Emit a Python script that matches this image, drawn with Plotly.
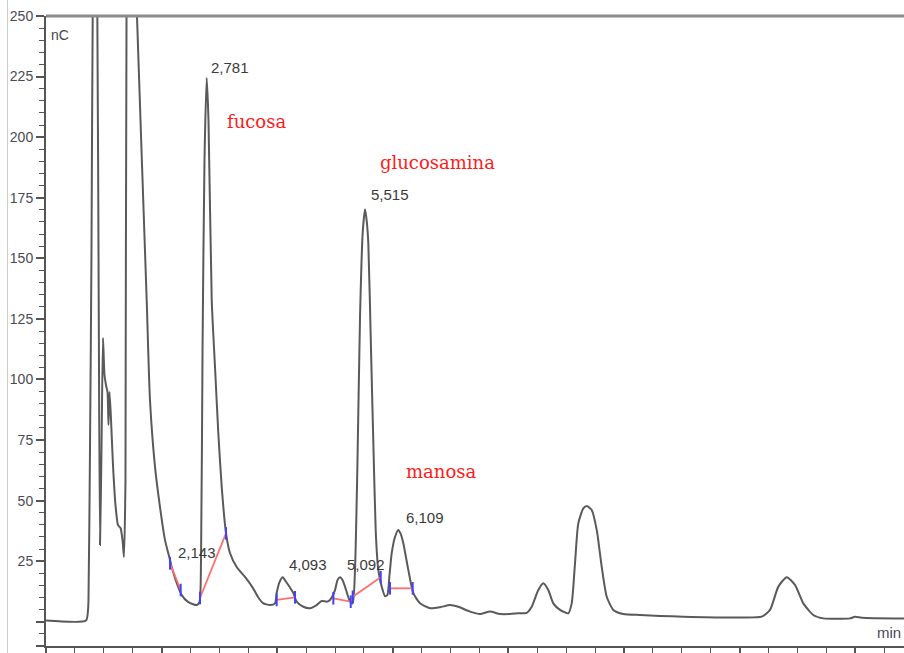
import plotly.graph_objects as go

# ---- chromatogram trace (time in min, signal in nC) ----
time_min = [0.0, 0.692, 0.727, 0.735, 0.761, 0.787, 0.808, 0.848, 0.888, 0.912, 0.934,
            0.960, 0.986, 1.012, 1.038, 1.064, 1.081, 1.099, 1.125, 1.159, 1.202, 1.246,
            1.289, 1.324, 1.349, 1.375, 1.393, 1.470, 1.574, 1.742, 1.799, 1.886, 1.972,
            2.059, 2.133, 2.175, 2.261, 2.348, 2.457, 2.607, 2.656, 2.682, 2.708, 2.742,
            2.780, 2.811, 2.867, 2.924, 2.981, 3.040, 3.114, 3.183, 3.299, 3.443, 3.581,
            3.668, 3.754, 3.875, 3.962, 3.991, 4.040, 4.095, 4.144, 4.192, 4.279, 4.337,
            4.452, 4.567, 4.683, 4.770, 4.856, 4.913, 5.000, 5.043, 5.087, 5.130, 5.173,
            5.260, 5.306, 5.346, 5.386, 5.433, 5.479, 5.519, 5.550, 5.576, 5.623, 5.675,
            5.709, 5.749, 5.808, 5.865, 5.905, 5.943, 5.981, 6.038, 6.095, 6.138, 6.182,
            6.268, 6.355, 6.471, 6.644, 6.817, 6.990, 7.133, 7.336, 7.509, 7.682, 7.855,
            8.028, 8.171, 8.317, 8.403, 8.517, 8.604, 8.690, 8.777, 8.893, 9.036, 9.095,
            9.152, 9.209, 9.296, 9.355, 9.441, 9.528, 9.614, 9.701, 9.815, 9.988, 10.277,
            10.623, 11.026, 11.891, 12.382, 12.526, 12.670, 12.815, 12.958, 13.102, 13.275,
            13.448, 13.910, 13.997, 14.113, 14.844]
signal_nc = [0.5, 0.5, 4.9, 9.0, 70.9, 153.4, 250.0, 320.0, 250.0, 132.8, 31.7,
             70.9, 117.1, 101.8, 97.7, 94.8, 81.2, 94.8, 83.3, 64.7, 48.2, 39.9,
             38.7, 33.7, 26.7, 58.5, 250.0, 340.0, 250.0, 132.8, 91.5, 63.9, 47.4,
             33.7, 26.7, 22.6, 16.0, 11.0, 8.2, 6.9, 8.2, 25.5, 112.2, 190.6,
             224.4, 207.1, 132.8, 105.1, 77.9, 55.6, 36.6, 28.4, 22.6, 18.5, 13.9,
             10.2, 7.7, 6.9, 7.6, 11.9, 16.4, 18.4, 16.8, 15.2, 11.9, 8.3,
             6.2, 5.6, 6.9, 8.6, 8.3, 9.0, 13.1, 17.2, 18.4, 17.2, 14.5,
             8.3, 7.6, 21.4, 62.6, 125.9, 160.5, 170.2, 165.0, 156.3, 112.2, 62.6,
             35.1, 21.4, 14.5, 10.6, 11.0, 19.3, 28.3, 35.0, 37.9, 36.2, 32.4,
             21.4, 11.8, 7.6, 5.6, 6.0, 6.9, 6.2, 4.2, 3.2, 4.2, 3.2,
             3.2, 3.5, 3.7, 6.2, 13.1, 15.9, 13.1, 7.6, 4.9, 3.5, 7.6,
             24.1, 40.6, 46.8, 47.8, 46.1, 37.9, 22.7, 10.3, 4.9, 3.2, 2.8,
             2.4, 2.1, 1.8, 2.1, 4.9, 14.5, 18.4, 15.2, 7.6, 2.8,
             1.4, 1.4, 2.1, 1.7, 1.4]

# ---- integrated peaks ----
peak_labels = ["2,143", "2,781", "4,093", "5,092", "5,515", "6,109"]
peak_times = [2.143, 2.781, 4.093, 5.092, 5.515, 6.109]
peak_heights = [26.7, 224.4, 18.4, 18.4, 170.2, 37.9]

# integration baselines (start/end)
base_start_t = [2.145, 2.664, 3.991, 4.971, 5.306, 5.952]
base_start_v = [24.1, 9.8, 9.0, 9.7, 10.3, 13.8]
base_end_t = [2.330, 3.114, 4.308, 5.272, 5.791, 6.344]
base_end_v = [13.1, 36.5, 10.1, 8.3, 18.4, 13.8]

# compound names
compound_names = ["fucosa", "glucosamina", "manosa"]

# y-axis ticks
y_tick_vals = [-10, 0, 25, 50, 75, 100, 125, 150, 175, 200, 225, 250]
y_tick_text = ["-10", "", "25", "50", "75", "100", "125", "150", "175", "200", "225", "250"]

fig = go.Figure()

fig.add_trace(go.Scatter(
    x=time_min, y=signal_nc, mode="lines",
    line=dict(color="#5a5a5a", width=2, shape="spline", smoothing=0.6),
    hoverinfo="skip", showlegend=False))

bx, by = [], []
for a, b, c, d in zip(base_start_t, base_start_v, base_end_t, base_end_v):
    bx += [a, c, None]
    by += [b, d, None]
fig.add_trace(go.Scatter(x=bx, y=by, mode="lines",
                         line=dict(color="#ff6f6f", width=1.8),
                         hoverinfo="skip", showlegend=False))
fig.add_trace(go.Scatter(x=base_start_t + base_end_t, y=base_start_v + base_end_v,
                         mode="markers",
                         marker=dict(symbol="line-ns", size=9,
                                     line=dict(color="#4040ff", width=2)),
                         hoverinfo="skip", showlegend=False))

annotations = []
label_shift = {"2,143": (6, 5, "middle"), "2,781": (2, 0, "bottom"),
               "4,093": (4, 2, "bottom"), "5,092": (5, 2, "bottom"),
               "5,515": (4, 4, "bottom"), "6,109": (5, 2, "bottom")}
for lab, t, h in zip(peak_labels, peak_times, peak_heights):
    dx, dy, ya = label_shift[lab]
    annotations.append(dict(x=t, y=h, text=lab, showarrow=False, xanchor="left",
                            yanchor=ya, xshift=dx, yshift=dy,
                            font=dict(family="Liberation Sans, Arial", size=15, color="#3a3a3a")))

name_pos = [(3.65, 206.3), (6.765, 189.7), (6.834, 62.2)]
for nm, (px, py) in zip(compound_names, name_pos):
    annotations.append(dict(x=px, y=py, text=nm, showarrow=False, xanchor="center",
                            yanchor="middle",
                            font=dict(family="DejaVu Serif, Liberation Serif, serif",
                                      size=18, color="#ff1a1a")))

annotations.append(dict(x=0.004, y=0.985, xref="paper", yref="paper", text="nC",
                        showarrow=False, xanchor="left", yanchor="top",
                        font=dict(family="Liberation Sans, Arial", size=14, color="#444")))
annotations.append(dict(x=1.0, y=0.022, xref="paper", yref="paper", text="min",
                        showarrow=False, xanchor="right", yanchor="middle", xshift=-1,
                        font=dict(family="Liberation Sans, Arial", size=15, color="#4a4a5a")))

fig.update_layout(
    width=904, height=653,
    margin=dict(l=46, r=0, t=16, b=7, autoexpand=False),
    paper_bgcolor="white", plot_bgcolor="white",
    showlegend=False,
    annotations=annotations,
    xaxis=dict(range=[0, 14.844], showgrid=False, zeroline=False, automargin=False,
               showline=True, linecolor="#555", linewidth=2,
               ticks="outside", ticklen=8, tickwidth=1.5, tickcolor="#555",
               tick0=0, dtick=2, showticklabels=False,
               minor=dict(ticks="outside", ticklen=5, tickwidth=1.2,
                          tickcolor="#555", dtick=0.5, tick0=0, showgrid=False)),
    yaxis=dict(range=[-10, 250], showgrid=False, zeroline=False, automargin=False,
               showline=True, linecolor="#555", linewidth=2,
               ticks="outside", ticklen=8, tickwidth=1.5, tickcolor="#555",
               tickmode="array", tickvals=y_tick_vals, ticktext=y_tick_text,
               tickfont=dict(family="Liberation Sans, Arial", size=14, color="#4a4a55"),
               minor=dict(ticks="outside", ticklen=5, tickwidth=1.2,
                          tickcolor="#555", dtick=5, tick0=0, showgrid=False)),
    shapes=[
        dict(type="line", xref="paper", yref="paper", x0=0, x1=1, y0=1, y1=1,
             line=dict(color="#8a8a8a", width=3)),
        dict(type="line", xref="paper", yref="paper", x0=-0.0449, x1=-0.0449,
             y0=-0.02, y1=1.03, line=dict(color="#cccccc", width=1)),
    ],
)

fig.write_html("out.html", config={"displayModeBar": False},
               post_script="document.body.style.margin='0';document.body.style.overflow='hidden';")
